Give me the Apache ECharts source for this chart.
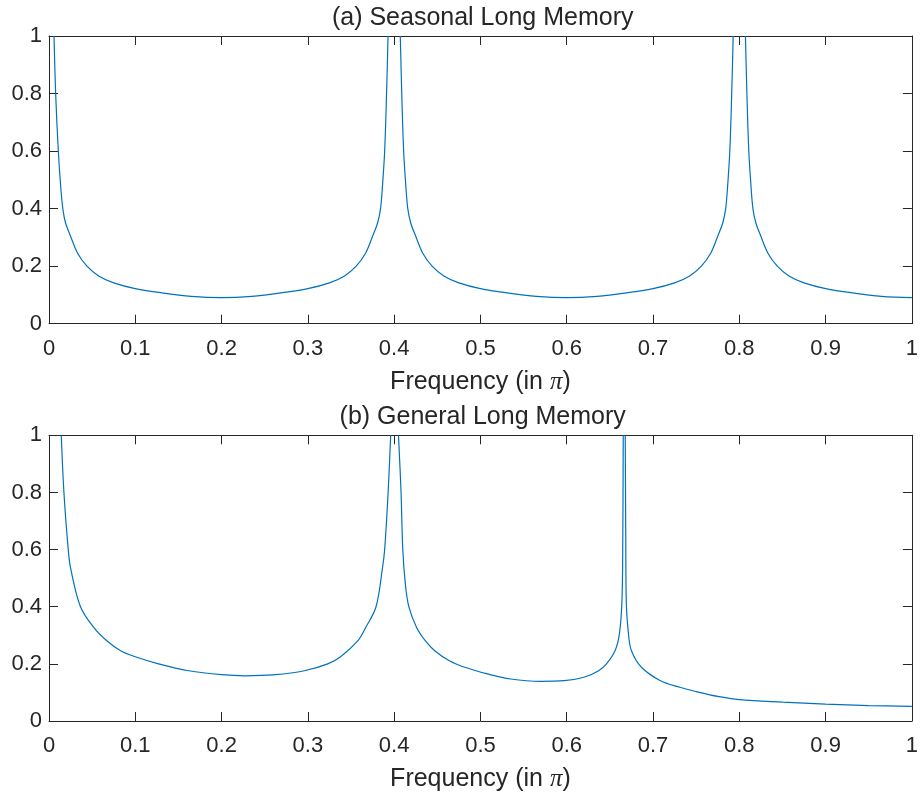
<!DOCTYPE html>
<html>
<head>
<meta charset="utf-8">
<script src="https://cdn.jsdelivr.net/npm/echarts@6/dist/echarts.min.js"></script>
<style>
html,body{margin:0;padding:0;background:#fff;}
#chart{width:921px;height:793px;}
</style>
</head>
<body>
<div id="chart"></div>
<script>
// Panel titles and axis labels
const titleA = "(a) Seasonal Long Memory";
const titleB = "(b) General Long Memory";
const xLabel = "Frequency (in {pi|\u03c0})";

// Panel (a): frequency (in pi) and spectral density (null = off-scale peak)
const freqA = [0.0058,0.0077,0.0108,0.0135,0.016,0.0192,0.025,0.033,0.044,0.058,0.075,0.1,0.131,0.165,0.2,0.235,0.269,0.3,0.325,0.342,0.356,0.367,0.375,0.3808,0.3842,0.3865,0.3890,0.3912,0.3929,
  0.40,
  0.4071,0.4088,0.4110,0.4135,0.4158,0.4192,0.425,0.433,0.444,0.458,0.475,0.5,0.531,0.565,0.6,0.635,0.669,0.7,0.725,0.742,0.756,0.767,0.775,0.7808,0.7842,0.7865,0.7890,0.7912,0.7929,
  0.80,
  0.8071,0.8088,0.8110,0.8135,0.8158,0.8192,0.825,0.833,0.844,0.858,0.875,0.9,0.931,0.965,1.0];
const specA = [1,0.8,0.6,0.48,0.4,0.35,0.304,0.246,0.2,0.165,0.142,0.122,0.107,0.095,0.0905,0.095,0.107,0.122,0.142,0.165,0.2,0.246,0.304,0.35,0.4,0.48,0.6,0.8,1,
  null,
  1,0.8,0.6,0.48,0.4,0.35,0.304,0.246,0.2,0.165,0.142,0.122,0.107,0.095,0.0905,0.095,0.107,0.122,0.142,0.165,0.2,0.246,0.304,0.35,0.4,0.48,0.6,0.8,1,
  null,
  1,0.8,0.6,0.48,0.4,0.35,0.304,0.246,0.2,0.165,0.142,0.122,0.107,0.095,0.0905];

// Panel (b): frequency (in pi) and spectral density
const freqB = [0.0142,0.0173,0.0223,0.025,0.0365,0.052,0.067,0.083,0.1,0.127,0.162,0.2,0.227,0.262,0.296,0.323,0.338,0.358,0.367,0.379,0.3865,0.389,0.393,0.396,
  0.40,
  0.405,0.408,0.410,0.413,0.417,0.426,0.436,0.447,0.464,0.482,0.508,0.535,0.570,0.597,0.620,0.637,0.646,0.656,0.661,0.664,0.6650,0.6655,
  0.6667,
  0.6678,0.6684,0.6690,0.6716,0.675,0.6866,0.708,0.731,0.75,0.775,0.8,0.85,0.9,0.95,1.0];
const specB = [1,0.8,0.6,0.536,0.4,0.327,0.281,0.246,0.225,0.2,0.176,0.162,0.158,0.162,0.176,0.2,0.225,0.281,0.327,0.4,0.536,0.6,0.8,1,
  null,
  1,0.8,0.6,0.479,0.4,0.327,0.281,0.246,0.211,0.188,0.165,0.147,0.139,0.141,0.153,0.176,0.2,0.246,0.304,0.42,0.65,1,
  null,
  1,0.65,0.42,0.304,0.246,0.188,0.142,0.118,0.103,0.086,0.075,0.066,0.059,0.054,0.051];

// Tick settings
const xTickStep = 0.1;
const yTickStep = 0.2;

const dark = '#262626';
const font = "'Liberation Sans', Arial, Helvetica, sans-serif";
const lineColor = '#0072BD';

function pairs(xs, ys){ return xs.map((x,i)=>[x, ys[i]]); }

const grids = [
  {left:49, top:36, width:867.5, height:287.7},
  {left:49, top:435.3, width:867.5, height:287}
];

function xAx(gi, pos, labels){
  return {
    type:'value', gridIndex:gi, position:pos, min:0, max:1, interval:xTickStep,
    name: labels ? xLabel : '', nameLocation:'middle', nameGap:46,
    nameTextStyle:{fontFamily:font, fontSize:25, color:dark,
      rich:{pi:{fontFamily:"'Liberation Serif', 'DejaVu Serif', serif", fontStyle:'italic', fontSize:25, color:dark}}},
    axisLine:{show:true, onZero:false, lineStyle:{color:dark, width:1}},
    axisTick:{show:true, inside:true, length:9, lineStyle:{color:dark, width:1}},
    axisLabel:{show:labels, fontFamily:font, fontSize:22, color:dark, margin:14},
    splitLine:{show:false}
  };
}
function yAx(gi, pos, labels){
  return {
    type:'value', gridIndex:gi, position:pos, min:0, max:1, interval:yTickStep,
    axisLine:{show:true, onZero:false, lineStyle:{color:dark, width:1}},
    axisTick:{show:true, inside:true, length:9, lineStyle:{color:dark, width:1}},
    axisLabel:{show:labels, fontFamily:font, fontSize:22, color:dark, margin:7},
    splitLine:{show:false}
  };
}

const chart = echarts.init(document.getElementById('chart'), null, {renderer:'canvas'});
chart.setOption({
  animation:false,
  backgroundColor:'#fff',
  grid: grids,
  xAxis:[xAx(0,'bottom',true), xAx(0,'top',false), xAx(1,'bottom',true), xAx(1,'top',false)],
  yAxis:[yAx(0,'left',true), yAx(0,'right',false), yAx(1,'left',true), yAx(1,'right',false)],
  graphic:[
    {type:'text', x:482.7, y:18.5, style:{text:titleA, font:'25px '+font, fill:dark, textAlign:'center', textVerticalAlign:'middle'}},
    {type:'text', x:482.7, y:417.5, style:{text:titleB, font:'25px '+font, fill:dark, textAlign:'center', textVerticalAlign:'middle'}}
  ],
  series:[
    {type:'line', xAxisIndex:0, yAxisIndex:0, data:pairs(freqA, specA), showSymbol:false, connectNulls:false, clip:true,
     smooth:0.35, lineStyle:{color:lineColor, width:1.2}},
    {type:'line', xAxisIndex:2, yAxisIndex:2, data:pairs(freqB, specB), showSymbol:false, connectNulls:false, clip:true,
     smooth:0.35, lineStyle:{color:lineColor, width:1.2}}
  ]
});
</script>
</body>
</html>
